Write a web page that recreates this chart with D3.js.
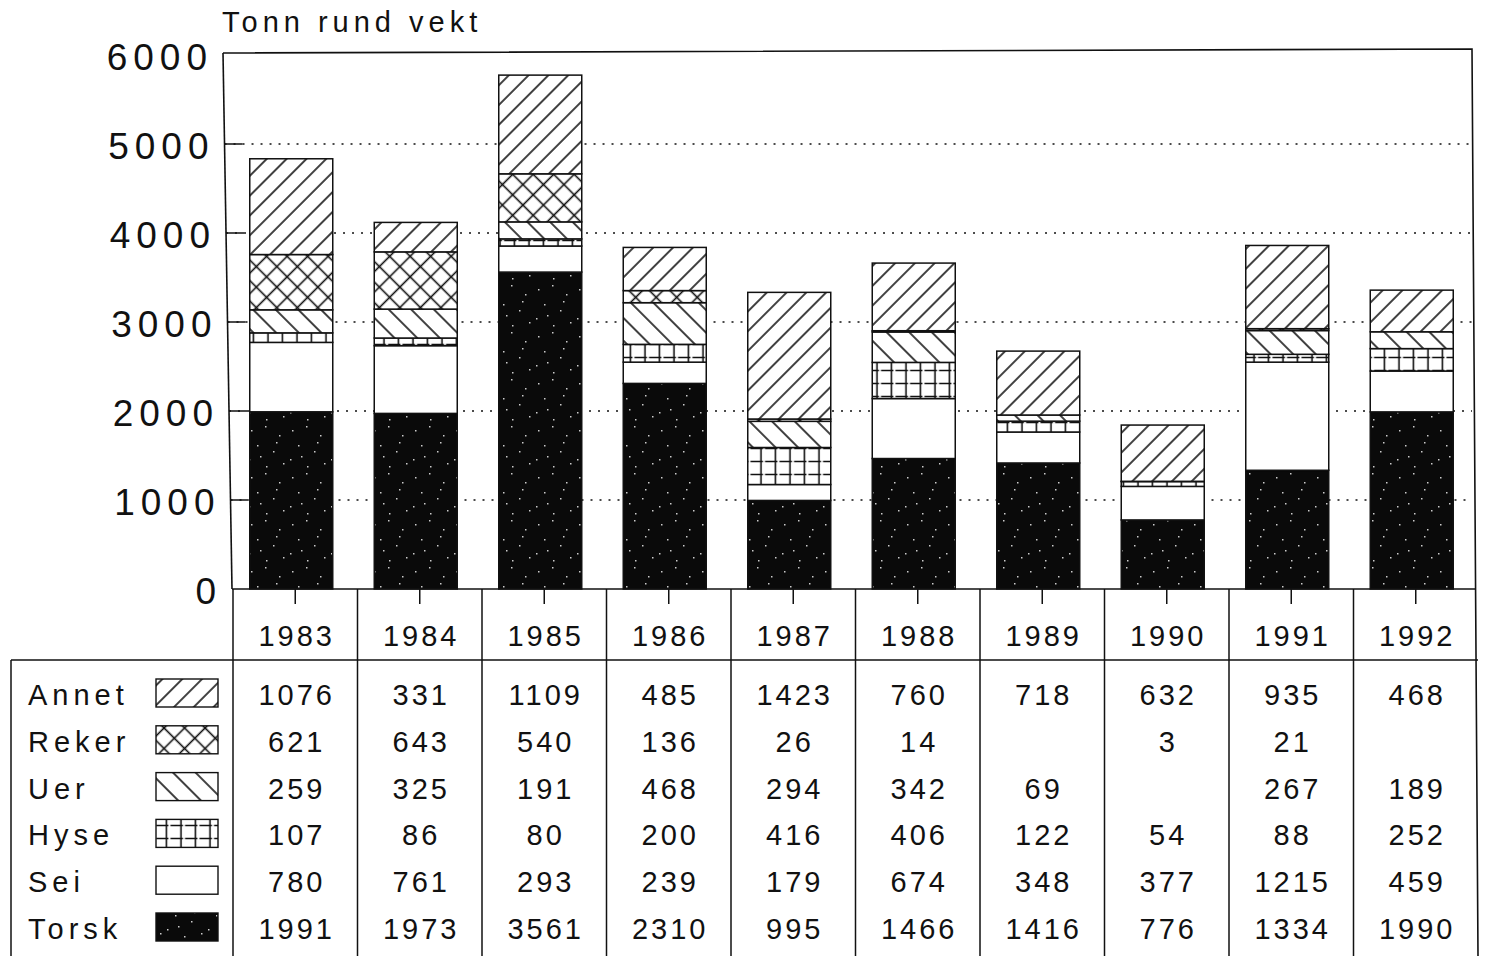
<!DOCTYPE html>
<html><head><meta charset="utf-8">
<script src="https://cdn.jsdelivr.net/npm/d3@7"></script>
<style>
body{margin:0;background:#fff}
svg{display:block}
text{font-family:"Liberation Sans",Arial,Helvetica,sans-serif;fill:#111}
</style>
</head><body>
<svg id="c" width="1487" height="956"></svg>
<script>
// ---------------- data ----------------
const years  = [1983, 1984, 1985, 1986, 1987, 1988, 1989, 1990, 1991, 1992];
const torsk  = [1991, 1973, 3561, 2310, 995, 1466, 1416, 776, 1334, 1990];
const sei    = [780, 761, 293, 239, 179, 674, 348, 377, 1215, 459];
const hyse   = [107, 86, 80, 200, 416, 406, 122, 54, 88, 252];
const uer    = [259, 325, 191, 468, 294, 342, 69, null, 267, 189];
const reker  = [621, 643, 540, 136, 26, 14, null, 3, 21, null];
const annet  = [1076, 331, 1109, 485, 1423, 760, 718, 632, 935, 468];
const stackKeys = ["Torsk", "Sei", "Hyse", "Uer", "Reker", "Annet"];   // bottom -> top
const tableRows = ["Annet", "Reker", "Uer", "Hyse", "Sei", "Torsk"];   // table order
const yTicks = [0, 1000, 2000, 3000, 4000, 5000, 6000];
const yTitle = "Tonn rund vekt";

const seriesData = {Torsk: torsk, Sei: sei, Hyse: hyse, Uer: uer, Reker: reker, Annet: annet};
const table = years.map((yr, i) => {
  const o = {year: yr};
  stackKeys.forEach(k => o[k] = seriesData[k][i] == null ? 0 : seriesData[k][i]);
  return o;
});

// ---------------- layout ----------------
const svg = d3.select("#c");
const x = d3.scaleBand().domain(years).range([233, 1478]).paddingInner(0).paddingOuter(0);
const y = d3.scaleLinear().domain([0, 6000]).range([589, 55]);
const barW = 83, barShift = -4;
const axisTopX = 223, axisBotX = 232;
const axisX = yy => axisTopX + (yy - 53) * (axisBotX - axisTopX) / (589 - 53);
const ink = "#111";

// ---------------- patterns ----------------
const defs = svg.append("defs");
function hatch(id, spacing, angle, cross) {
  const p = defs.append("pattern").attr("id", id).attr("patternUnits", "userSpaceOnUse")
    .attr("width", spacing).attr("height", spacing)
    .attr("patternTransform", `rotate(${angle})`);
  p.append("rect").attr("width", spacing).attr("height", spacing).attr("fill", "#fff");
  p.append("line").attr("x1", spacing / 2).attr("x2", spacing / 2).attr("y1", 0).attr("y2", spacing)
    .attr("stroke", ink).attr("stroke-width", 1.6);
  if (cross) p.append("line").attr("y1", spacing / 2).attr("y2", spacing / 2).attr("x1", 0).attr("x2", spacing)
    .attr("stroke", ink).attr("stroke-width", 1.6);
}
hatch("p-annet", 14, 45, false);
hatch("p-uer", 16, -45, false);
hatch("p-reker", 14.5, 45, true);
{
  const p = defs.append("pattern").attr("id", "p-hyse").attr("patternUnits", "userSpaceOnUse")
    .attr("width", 14.5).attr("height", 13);
  p.append("rect").attr("width", 14.5).attr("height", 13).attr("fill", "#fff");
  p.append("line").attr("x1", 7).attr("x2", 7).attr("y1", 0).attr("y2", 13).attr("stroke", ink).attr("stroke-width", 1.6);
  p.append("line").attr("x1", 0).attr("x2", 14.5).attr("y1", 6.5).attr("y2", 6.5).attr("stroke", ink)
    .attr("stroke-width", 1.4).attr("stroke-dasharray", "9,2");
}
{
  const p = defs.append("pattern").attr("id", "p-torsk").attr("patternUnits", "userSpaceOnUse")
    .attr("width", 41).attr("height", 47);
  p.append("rect").attr("width", 41).attr("height", 47).attr("fill", "#0a0a0a");
  [[5,7],[19,3],[33,12],[11,22],[27,28],[3,36],[37,40],[20,43],[14,33],[30,19]].forEach(([a, b]) =>
    p.append("rect").attr("x", a).attr("y", b).attr("width", 1.5).attr("height", 1.5).attr("fill", "#ccc"));
}
const fills = {Torsk: "url(#p-torsk)", Sei: "#fff", Hyse: "url(#p-hyse)", Uer: "url(#p-uer)", Reker: "url(#p-reker)", Annet: "url(#p-annet)"};

// ---------------- grid & axes ----------------
const g = svg.append("g");
yTicks.filter(v => v > 0 && v < 6000).forEach(v => {
  const yy = y(v);
  g.append("line").attr("x1", axisX(yy)).attr("x2", 1472).attr("y1", yy).attr("y2", yy)
    .attr("stroke", ink).attr("stroke-width", 1.6).attr("stroke-dasharray", "2,7");
  g.append("line").attr("x1", axisX(yy)).attr("x2", axisX(yy) + 18).attr("y1", yy).attr("y2", yy)
    .attr("stroke", ink).attr("stroke-width", 1.5);
});
// frame
g.append("path").attr("d", `M${axisTopX},53 L1472,49 L1478,956`).attr("fill", "none").attr("stroke", ink).attr("stroke-width", 1.6);
g.append("line").attr("x1", axisTopX).attr("y1", 53).attr("x2", axisBotX).attr("y2", 589).attr("stroke", ink).attr("stroke-width", 1.6);

// y tick labels
yTicks.forEach(v => {
  const yy = y(v);
  g.append("text").attr("x", axisX(yy) - 16).attr("y", yy + 2).attr("dx", 6)
    .attr("text-anchor", "end").attr("dominant-baseline", "central")
    .style("font-size", "37px").style("letter-spacing", "6px").text(d3.format("d")(v));
});
// y title
g.append("text").attr("x", 222).attr("y", 32).style("font-size", "29px").style("letter-spacing", "5px").text(yTitle);

// ---------------- bars ----------------
const stacked = d3.stack().keys(stackKeys)(table);
const bars = svg.append("g");
stacked.forEach(layer => {
  bars.selectAll(null).data(layer.filter(d => d[1] - d[0] > 0)).join("rect")
    .attr("x", d => x(d.data.year) + x.bandwidth() / 2 + barShift - barW / 2)
    .attr("width", barW)
    .attr("y", d => y(d[1]))
    .attr("height", d => y(d[0]) - y(d[1]))
    .attr("fill", fills[layer.key])
    .attr("stroke", ink).attr("stroke-width", 1.5);
});

// x axis baseline
svg.append("line").attr("x1", axisBotX).attr("x2", 1476).attr("y1", y(0)).attr("y2", y(0)).attr("stroke", ink).attr("stroke-width", 1.6);

// ---------------- table ----------------
const t = svg.append("g");
x.domain().forEach(yr => {
  t.append("line").attr("x1", x(yr)).attr("x2", x(yr)).attr("y1", y(0)).attr("y2", 956).attr("stroke", ink).attr("stroke-width", 1.5);
  const cx = x(yr) + x.bandwidth() / 2;
  t.append("line").attr("x1", cx).attr("x2", cx).attr("y1", y(0)).attr("y2", y(0) + 15).attr("stroke", ink).attr("stroke-width", 1.5);
  t.append("text").attr("x", cx).attr("dx", 1.5).attr("y", 636).attr("text-anchor", "middle").attr("dominant-baseline", "central")
    .style("font-size", "29px").style("letter-spacing", "3px").text(yr);
});
t.append("line").attr("x1", 11).attr("x2", 1478).attr("y1", 660).attr("y2", 660).attr("stroke", ink).attr("stroke-width", 1.5);
t.append("line").attr("x1", 11).attr("x2", 11).attr("y1", 660).attr("y2", 956).attr("stroke", ink).attr("stroke-width", 1.5);

const rowY = i => 695 + i * 46.8;
tableRows.forEach((k, i) => {
  const yy = rowY(i);
  t.append("text").attr("x", 28).attr("y", yy).attr("dominant-baseline", "central")
    .style("font-size", "29px").style("letter-spacing", "5px").text(k);
  t.append("rect").attr("x", 156).attr("y", yy - 16).attr("width", 62).attr("height", 28)
    .attr("fill", fills[k]).attr("stroke", ink).attr("stroke-width", 1.4);
  seriesData[k].forEach((v, j) => {
    if (v == null) return;
    t.append("text").attr("x", x(years[j]) + x.bandwidth() / 2).attr("dx", 1.5).attr("y", yy)
      .attr("text-anchor", "middle").attr("dominant-baseline", "central")
      .style("font-size", "29px").style("letter-spacing", "3px").text(v);
  });
});
</script>
</body></html>
